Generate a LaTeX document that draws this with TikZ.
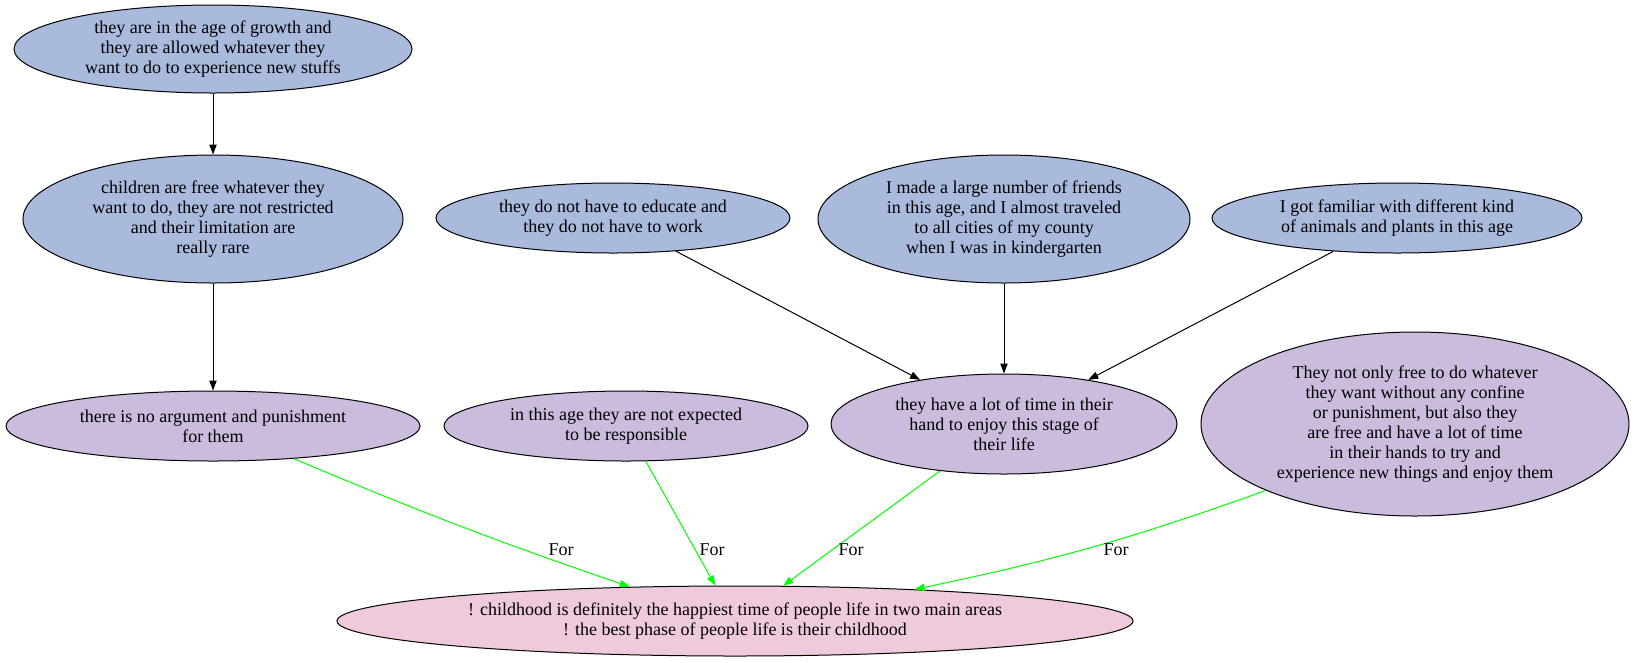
\documentclass[tikz,border=0pt]{standalone}
\usepackage{fontspec}
\setmainfont{Liberation Serif}
\usetikzlibrary{shapes.geometric,arrows.meta}
\definecolor{nblue}{HTML}{A9BADC}
\definecolor{npurple}{HTML}{CBBBDC}
\definecolor{npink}{HTML}{EFCADC}
\definecolor{egreen}{HTML}{00FF00}
\tikzset{
  ell/.style 2 args={ellipse, draw=black, line width=0.75pt, inner sep=0pt,
    minimum width={#1*0.75pt}, minimum height={#2*0.75pt}, align=center,
    font=\fontsize{13.5}{15}\selectfont},
  bluenode/.style={fill=nblue},
  purplenode/.style={fill=npurple},
  pinknode/.style={fill=npink},
  blackedge/.style={draw=black, line width=0.75pt, -{Triangle[length=7.5pt,width=5.5pt]}},
  greenedge/.style={draw=egreen, line width=0.75pt, -{Triangle[length=7.5pt,width=5.5pt]}},
  elabel/.style={font=\fontsize{13.5}{15}\selectfont, inner sep=1pt}
}
\begin{document}
\begin{tikzpicture}[x=0.75pt,y=-0.75pt]
\useasboundingbox (0,0) rectangle (1635,662);
\node[ell={398}{88},bluenode] (A) at (213,49) {they are in the age of growth and\\they are allowed whatever they\\want to do to experience new stuffs};
\node[ell={380}{128},bluenode] (B) at (213,219) {children are free whatever they\\want to do, they are not restricted\\and their limitation are\\really rare};
\node[ell={354}{70},bluenode] (C) at (613,218) {they do not have to educate and\\they do not have to work};
\node[ell={372}{128},bluenode] (D) at (1004,219) {I made a large number of friends\\in this age, and I almost traveled\\to all cities of my county\\when I was in kindergarten};
\node[ell={370}{70},bluenode] (E) at (1397,218) {I got familiar with different kind\\of animals and plants in this age};
\node[ell={414}{70},purplenode] (F) at (213,426) {there is no argument and punishment\\for them};
\node[ell={364}{70},purplenode] (G) at (626,426) {in this age they are not expected\\to be responsible};
\node[ell={346}{100},purplenode] (H) at (1004,424) {they have a lot of time in their\\hand to enjoy this stage of\\their life};
\node[ell={428}{184},purplenode] (I) at (1415,424) {They not only free to do whatever\\they want without any confine\\or punishment, but also they\\are free and have a lot of time\\in their hands to try and\\experience new things and enjoy them};
\node[ell={796}{70},pinknode] (J) at (735,621) {! childhood is definitely the happiest time of people life in two main areas\\! the best phase of people life is their childhood};

\draw[blackedge] (A) -- (B);
\draw[blackedge] (B) -- (F);
\draw[blackedge] (C) -- (H);
\draw[blackedge] (D) -- (H);
\draw[blackedge] (E) -- (H);
\draw[greenedge] (F.-22) to[bend right=2] (J.162);
\draw[greenedge] (G) -- (J);
\draw[greenedge] (H) -- (J);
\draw[greenedge] (I.204) to[bend left=4] (J.10.5);

\node[elabel] (l1) at (561,550) {For};
\node[elabel] (l2) at (712,550) {For};
\node[elabel] (l3) at (851,550) {For};
\node[elabel] (l4) at (1116,550) {For};
\end{tikzpicture}
\end{document}
